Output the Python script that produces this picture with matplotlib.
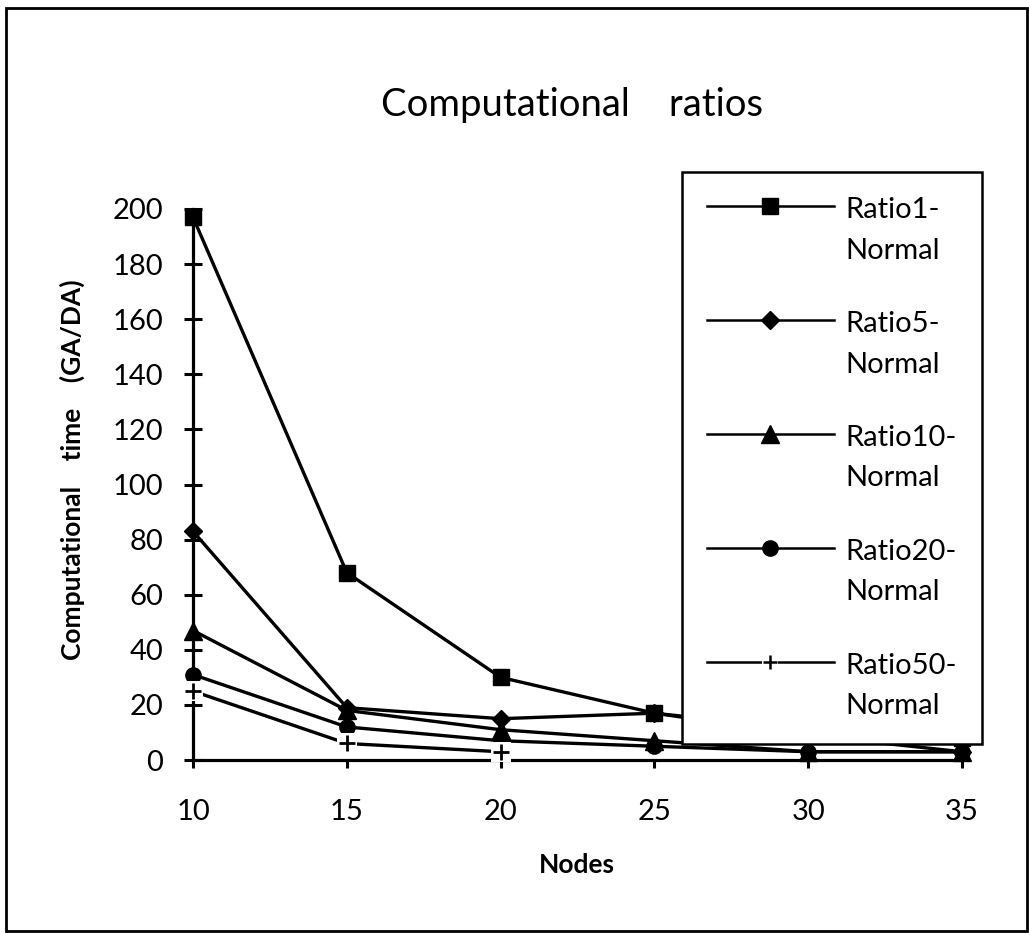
import numpy as np
import matplotlib.pyplot as plt
from matplotlib.lines import Line2D
from matplotlib.patches import Rectangle
from matplotlib.legend_handler import HandlerLine2D, HandlerTuple

plt.rcParams['font.family'] = ['Lato', 'DejaVu Sans']

# 数据：GA/DA 计算时间比（Ratio50 只算到 20 个节点）
nan = float('nan')
nodes = [10, 15, 20, 25, 30, 35]
ratio1 = [197, 68, 30, 17, 11, 8]
ratio5 = [83, 19, 15, 17, 9, 3]
ratio10 = [47, 18, 11, 7, 3, 3]
ratio20 = [31, 12, 7, 5, 3, 3]
ratio50 = [25, 6, 3, nan, nan, nan]
series_labels = ['Ratio1-\nNormal', 'Ratio5-\nNormal', 'Ratio10-\nNormal',
                 'Ratio20-\nNormal', 'Ratio50-\nNormal']
y_ticks = [0, 20, 40, 60, 80, 100, 120, 140, 160, 180, 200]


class RaisedLineHandler(HandlerLine2D):
    """图例线条与两行标签的第一行对齐"""

    def __init__(self, lift=0.7, **kw):
        super().__init__(**kw)
        self.lift = lift

    def create_artists(self, legend, orig_handle, xdescent, ydescent,
                       width, height, fontsize, trans):
        artists = super().create_artists(legend, orig_handle, xdescent, ydescent,
                                         width, height, fontsize, trans)
        for a in artists:
            a.set_ydata(np.asarray(a.get_ydata()) + self.lift * fontsize)
        return artists


fig = plt.figure(figsize=(10.29, 9.33), dpi=100)
ax = fig.add_axes([0.1876, 0.1854, 0.7473, 0.5906])

lw = 2.4
common = dict(color='black', lw=lw, clip_on=False)
h1, = ax.plot(nodes, ratio1, marker='s', ms=11, **common)
h5, = ax.plot(nodes, ratio5, marker='D', ms=9, **common)
h10, = ax.plot(nodes, ratio10, marker='^', ms=13, **common)
h20, = ax.plot(nodes, ratio20, marker='o', ms=11, **common)
h50, = ax.plot(nodes, ratio50, **common)
# "+" 标记周围留白
ax.plot(nodes, ratio50, ls='none', marker='s', ms=14, mfc='white', mec='white',
        mew=0, clip_on=False, zorder=3)
ax.plot(nodes, ratio50, ls='none', marker='+', ms=11, mew=2.0, color='black',
        clip_on=False, zorder=3.1)

ax.set_xlim(10, 35)
ax.set_ylim(0, 200)
ax.set_xticks(nodes)
ax.set_yticks(y_ticks)
for side in ['top', 'right']:
    ax.spines[side].set_visible(False)
for side in ['left', 'bottom']:
    ax.spines[side].set_linewidth(2.3)
ax.tick_params(axis='y', direction='inout', length=13, width=2.2, pad=15, labelsize=21)
ax.tick_params(axis='x', direction='out', length=6, width=2.2, pad=22, labelsize=21)

ax.set_xlabel('Nodes', fontsize=19, fontweight='bold')
ax.xaxis.set_label_coords(0.499, -0.169)
ax.set_ylabel('Computational    time    (GA/DA)', fontsize=19, fontweight='bold')
ax.yaxis.set_label_coords(-0.140, 0.526)

fig.text(0.556, 0.8875, 'Computational    ratios', fontsize=27.5,
         ha='center', va='center')

# 图例
knock = Line2D([], [], ls='none', marker='s', ms=12, mfc='white', mec='white', mew=0)
plus = Line2D([], [], ls='none', marker='+', ms=10, mew=1.8, color='black')
line50 = Line2D([], [], color='black', lw=1.8)
handles = [h1, h5, h10, h20, (line50, knock, plus)]
leg = ax.legend(handles, series_labels, loc='upper left',
                bbox_to_anchor=(0.636, 1.067), borderaxespad=0,
                fontsize=21, handlelength=4.35, handletextpad=0.4,
                borderpad=0.85, labelspacing=1.62, frameon=True, fancybox=False,
                framealpha=1, edgecolor='black',
                handler_map={Line2D: RaisedLineHandler(lift=0.85),
                             tuple: HandlerTuple(ndivide=1)})
leg.get_frame().set_linewidth(1.8)
for t in leg.get_texts():
    t.set_linespacing(1.7)
for ln in leg.get_lines():
    ln.set_linewidth(1.8)

# 外框
fig.patches.append(Rectangle((0.006, 0.002), 0.992, 0.989, transform=fig.transFigure,
                             fill=False, edgecolor='black', lw=2))

fig.savefig('out.png', dpi=100)
